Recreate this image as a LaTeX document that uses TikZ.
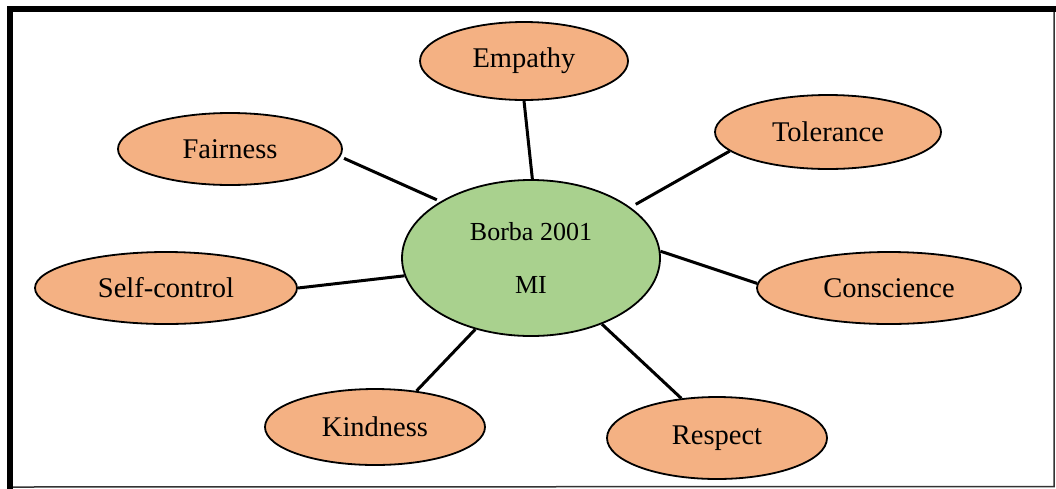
\documentclass[tikz,border=0pt]{standalone}
\usepackage{fontspec}
\setmainfont{Liberation Serif}
\usetikzlibrary{shapes.geometric}
\definecolor{peach}{HTML}{F4B183}
\definecolor{leaf}{HTML}{A9D18E}
\tikzset{
  oval/.style={ellipse, draw=black, line width=1.8pt, fill=peach, inner sep=0pt,
    font=\fontsize{28.5}{34}\selectfont},
  hub/.style={ellipse, draw=black, line width=1.8pt, fill=leaf, inner sep=0pt,
    align=center, font=\fontsize{26}{53}\selectfont},
  spoke/.style={line width=3pt, black}
}
\begin{document}
\begin{tikzpicture}[x=1pt,y=-1pt]
\useasboundingbox (0,0) rectangle (1056,488);
\fill[white] (0,0) rectangle (1056,488);
% frame
\coordinate (fbl) at (10,487);
\coordinate (ftl) at (10,9);
\coordinate (ftr) at (1054,9);
\coordinate (fbr) at (1054,486.5);
\draw[line width=1.5pt, black!80] (ftr) -- (fbr) -- (fbl);
\draw[line width=6pt, line cap=rect] (fbl) -- (ftl) -- (ftr);

\node[hub, minimum width=258pt, minimum height=156pt] (C) at (531,258) {Borba 2001\\MI};
\node[oval, minimum width=208pt, minimum height=78pt] (E) at (524,61) {Empathy};
\node[oval, minimum width=224pt, minimum height=72pt] (F) at (230,149) {Fairness};
\node[oval, minimum width=226pt, minimum height=74pt] (T) at (828,132) {Tolerance};
\node[oval, minimum width=262pt, minimum height=72pt] (S) at (166,288) {Self-control};
\node[oval, minimum width=264pt, minimum height=72pt] (K) at (889,288) {Conscience};
\node[oval, minimum width=220pt, minimum height=76pt] (N) at (375,427) {Kindness};
\node[oval, minimum width=220pt, minimum height=82pt] (R) at (717,438) {Respect};

\draw[spoke] (E.270) -- (C.89);
\draw[spoke, shorten <=4pt, shorten >=4pt] (F.-4) -- (C.148);
\draw[spoke, shorten >=6pt] (T.191) -- (C.27);
\draw[spoke] (S.0) -- (C.188);
\draw[spoke] (C.3) -- (K.178);
\draw[spoke] (N.41) -- (C.232);
\draw[spoke] (C.317) -- (R.132);
\end{tikzpicture}
\end{document}
